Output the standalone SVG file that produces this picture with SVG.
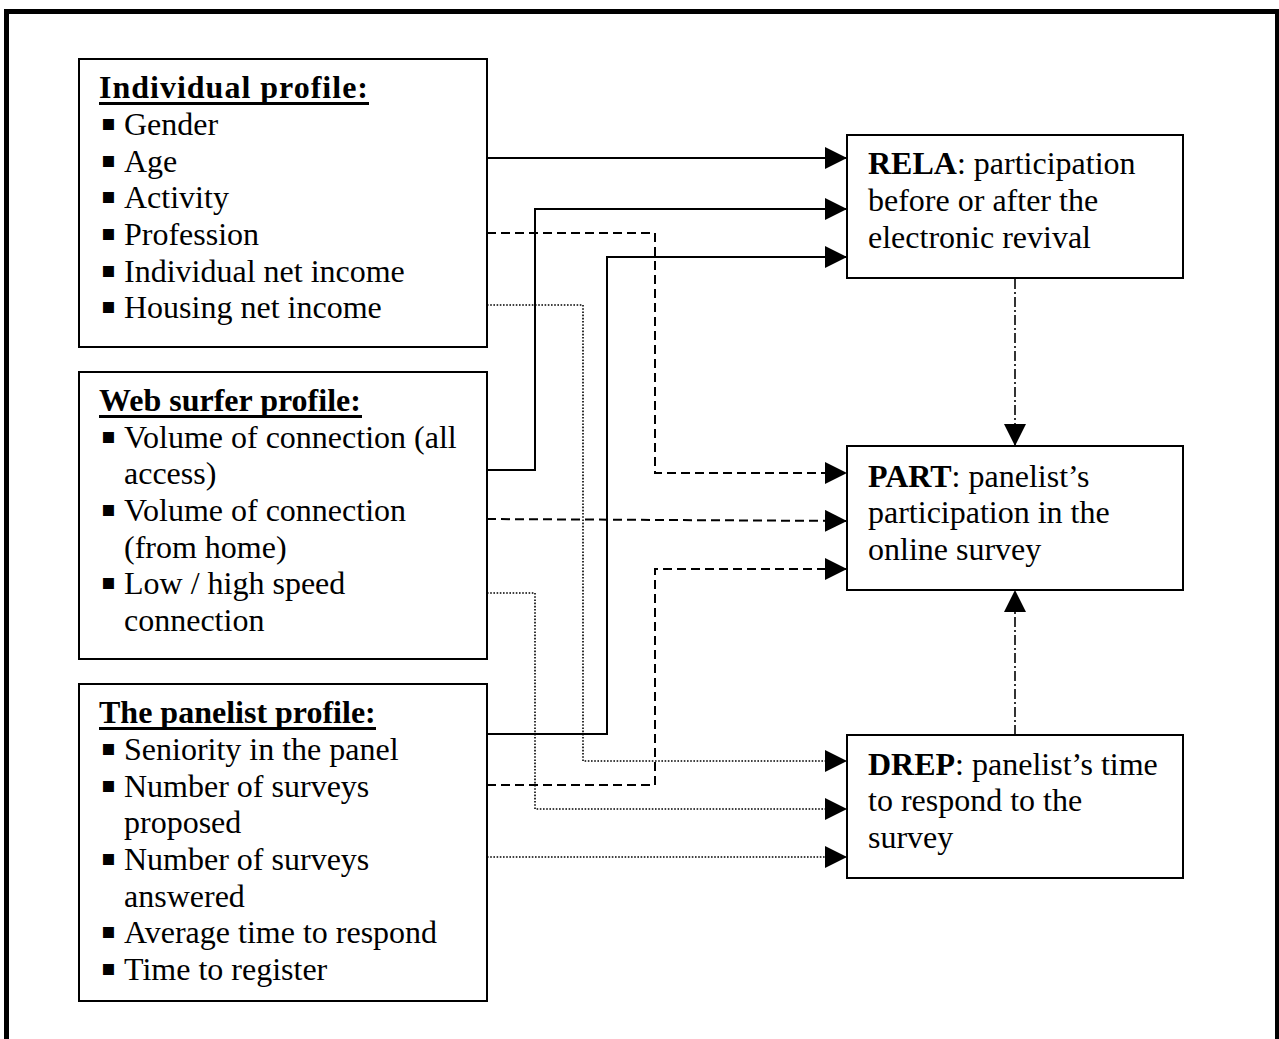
<svg xmlns="http://www.w3.org/2000/svg" width="1279" height="1039" viewBox="0 0 1279 1039">
  <style>
    .box { fill: #fff; stroke: #000; stroke-width: 2; }
    .t { font-family: "Liberation Serif", "Times New Roman", serif; font-size: 32px; fill: #000; }
    .h { font-weight: bold; }
    .ul { stroke: #000; stroke-width: 3; }
    .b { font-weight: bold; }
    .bul { font-family: "DejaVu Sans", sans-serif; font-size: 22px; fill: #000; }
    .c { fill: none; stroke: #000; }
    .solid { stroke-width: 2; }
    .dash { stroke-width: 2; stroke-dasharray: 9 5; }
    .dot { stroke-width: 1.6; stroke-dasharray: 1.6 1.6; }
    .dashdot { stroke-width: 1.6; stroke-dasharray: 10 3 2 3; }
  </style>
  <defs>
    <marker id="arr" markerUnits="userSpaceOnUse" markerWidth="22" markerHeight="22" viewBox="0 0 20 20" refX="20" refY="10" orient="auto">
      <path d="M0,0 L20,10 L0,20 Z" fill="#000"/>
    </marker>
  </defs>
  <rect width="1279" height="1039" fill="#fff"/>
  <rect x="6.5" y="11.5" width="1271" height="1100" fill="none" stroke="#000" stroke-width="5"/>

  <g id="connectors">
    <path class="c solid" d="M487,158 H847" marker-end="url(#arr)"/>
    <path class="c solid" d="M487,470 H535 V209 H847" marker-end="url(#arr)"/>
    <path class="c solid" d="M487,734 H607 V257 H847" marker-end="url(#arr)"/>
    <path class="c dash" d="M487,233 H655 V473 H847" marker-end="url(#arr)"/>
    <path class="c dash" d="M487,519 L847,521" marker-end="url(#arr)"/>
    <path class="c dash" d="M487,785 H655 V569 H847" marker-end="url(#arr)"/>
    <path class="c dot" d="M487,305 H583 V761 H847" marker-end="url(#arr)"/>
    <path class="c dot" d="M487,593 H535 V809 H847" marker-end="url(#arr)"/>
    <path class="c dot" d="M487,857 H847" marker-end="url(#arr)"/>
    <path class="c dashdot" d="M1015,279 V446" marker-end="url(#arr)"/>
    <path class="c dashdot" d="M1015,735 V590" marker-end="url(#arr)"/>
  </g>

  <g id="individual-profile">
    <rect class="box" x="79" y="59" width="408" height="288"/>
    <text class="t h" x="99" y="98" textLength="269" lengthAdjust="spacing">Individual profile:</text>
    <line class="ul" x1="99" y1="103.5" x2="369" y2="103.5"/>
    <text class="bul" x="101" y="130">▪</text><text class="t" x="124" y="135">Gender</text>
    <text class="bul" x="101" y="167">▪</text><text class="t" x="124" y="172">Age</text>
    <text class="bul" x="101" y="203">▪</text><text class="t" x="124" y="208">Activity</text>
    <text class="bul" x="101" y="240">▪</text><text class="t" x="124" y="245">Profession</text>
    <text class="bul" x="101" y="277">▪</text><text class="t" x="124" y="282">Individual net income</text>
    <text class="bul" x="101" y="313">▪</text><text class="t" x="124" y="318">Housing net income</text>
  </g>

  <g id="web-surfer-profile">
    <rect class="box" x="79" y="372" width="408" height="287"/>
    <text class="t h" x="99" y="411">Web surfer profile:</text>
    <line class="ul" x1="99" y1="416.5" x2="362" y2="416.5"/>
    <text class="bul" x="101" y="443">▪</text><text class="t" x="124" y="448">Volume of connection (all</text>
    <text class="t" x="124" y="484">access)</text>
    <text class="bul" x="101" y="516">▪</text><text class="t" x="124" y="521">Volume of connection</text>
    <text class="t" x="124" y="558">(from home)</text>
    <text class="bul" x="101" y="589">▪</text><text class="t" x="124" y="594">Low / high speed</text>
    <text class="t" x="124" y="631">connection</text>
  </g>

  <g id="panelist-profile">
    <rect class="box" x="79" y="684" width="408" height="317"/>
    <text class="t h" x="99" y="723">The panelist profile:</text>
    <line class="ul" x1="99" y1="728.5" x2="376" y2="728.5"/>
    <text class="bul" x="101" y="755">▪</text><text class="t" x="124" y="760">Seniority in the panel</text>
    <text class="bul" x="101" y="792">▪</text><text class="t" x="124" y="797">Number of surveys</text>
    <text class="t" x="124" y="833">proposed</text>
    <text class="bul" x="101" y="865">▪</text><text class="t" x="124" y="870">Number of surveys</text>
    <text class="t" x="124" y="907">answered</text>
    <text class="bul" x="101" y="938">▪</text><text class="t" x="124" y="943">Average time to respond</text>
    <text class="bul" x="101" y="975">▪</text><text class="t" x="124" y="980">Time to register</text>
  </g>

  <g id="rela">
    <rect class="box" x="847" y="135" width="336" height="143"/>
    <text class="t" x="868" y="174"><tspan class="b">RELA</tspan>: participation</text>
    <text class="t" x="868" y="211">before or after the</text>
    <text class="t" x="868" y="248">electronic revival</text>
  </g>

  <g id="part">
    <rect class="box" x="847" y="446" width="336" height="144"/>
    <text class="t" x="868" y="487"><tspan class="b">PART</tspan>: panelist’s</text>
    <text class="t" x="868" y="523">participation in the</text>
    <text class="t" x="868" y="560">online survey</text>
  </g>

  <g id="drep">
    <rect class="box" x="847" y="735" width="336" height="143"/>
    <text class="t" x="868" y="775"><tspan class="b">DREP</tspan>: panelist’s time</text>
    <text class="t" x="868" y="811">to respond to the</text>
    <text class="t" x="868" y="848">survey</text>
  </g>
</svg>
